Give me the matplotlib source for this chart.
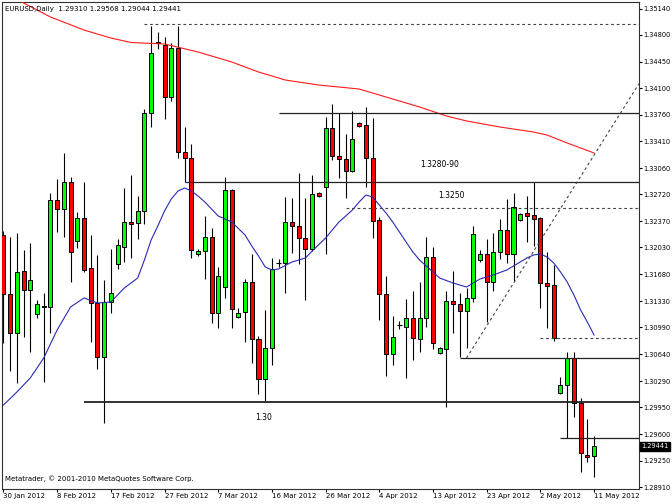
import matplotlib
matplotlib.use("Agg")
import matplotlib.pyplot as plt
import numpy as np

plt.rcParams['font.family'] = ['DejaVu Sans']

# EURUSD daily bars, 30 Jan 2012 .. 11 May 2012 (feed has Sunday bars)
opens = [1.32191, 1.31423, 1.30915, 1.31723, 1.31475, 1.31163, 1.31267, 1.31254, 1.32647, 1.32530,
         1.32881, 1.32113, 1.32413, 1.31762, 1.31306, 1.30603, 1.31319, 1.31814, 1.32035, 1.32361,
         1.32348, 1.32504, 1.33780, 1.34691, 1.34665, 1.33988, 1.34626, 1.33272, 1.33194, 1.31944,
         1.31983, 1.32165, 1.31176, 1.31514, 1.32777, 1.31124, 1.31189, 1.31579, 1.30837, 1.30316,
         1.30720, 1.31827, 1.31827, 1.32361, 1.32309, 1.32152, 1.32009, 1.32738, 1.32816, 1.33584,
         1.33220, 1.33181, 1.33025, 1.33650, 1.33624, 1.33194, 1.32387, 1.31423, 1.30642, 1.31019,
         1.30993, 1.31111, 1.30837, 1.31111, 1.31905, 1.30655, 1.30707, 1.31332, 1.31293, 1.31202,
         1.31371, 1.31866, 1.31944, 1.31579, 1.31970, 1.32256, 1.31944, 1.32387, 1.32478, 1.32452,
         1.32413, 1.31566, 1.31540, 1.30134, 1.30238, 1.30590, 1.30004, 1.29327, 1.29310]
highs = [1.32243, 1.32165, 1.32217, 1.31996, 1.32087, 1.31345, 1.31436, 1.32738, 1.32920, 1.33259,
         1.32946, 1.32491, 1.32881, 1.32191, 1.31931, 1.31605, 1.32009, 1.32139, 1.32803, 1.32972,
         1.32699, 1.33832, 1.34912, 1.34834, 1.34769, 1.34691, 1.34912, 1.33597, 1.33376, 1.32009,
         1.32439, 1.32282, 1.31775, 1.32946, 1.32790, 1.31241, 1.31618, 1.31944, 1.30876, 1.31215,
         1.31892, 1.31879, 1.32686, 1.32673, 1.32999, 1.32673, 1.32972, 1.32751, 1.33728, 1.33897,
         1.33780, 1.33506, 1.33806, 1.33662, 1.33858, 1.33715, 1.32426, 1.31657, 1.31137, 1.31072,
         1.31358, 1.31462, 1.31579, 1.32165, 1.32035, 1.30733, 1.31462, 1.31723, 1.31436, 1.31501,
         1.32309, 1.31996, 1.32139, 1.32217, 1.32400, 1.32660, 1.32738, 1.32478, 1.32699, 1.32881,
         1.32420, 1.31970, 1.31801, 1.30342, 1.30668, 1.30668, 1.30069, 1.29796, 1.29568]
lows = [1.30785, 1.30421, 1.30264, 1.30863, 1.30668, 1.31111, 1.30277, 1.30915, 1.32230, 1.32165,
        1.31579, 1.32022, 1.31710, 1.30798, 1.30447, 1.29744, 1.31176, 1.31749, 1.31840, 1.31892,
        1.32139, 1.32335, 1.33597, 1.34613, 1.33702, 1.33936, 1.33194, 1.32881, 1.31892, 1.31918,
        1.31618, 1.31046, 1.30980, 1.31371, 1.30980, 1.31111, 1.30798, 1.30525, 1.30121, 1.30030,
        1.30499, 1.31775, 1.31436, 1.31957, 1.31814, 1.31345, 1.31983, 1.32686, 1.31944, 1.33168,
        1.32933, 1.32673, 1.33012, 1.33597, 1.32816, 1.32152, 1.31085, 1.30355, 1.30499, 1.30967,
        1.30329, 1.30564, 1.30668, 1.30993, 1.30707, 1.30642, 1.29952, 1.30915, 1.30603, 1.30720,
        1.31319, 1.31840, 1.31059, 1.31462, 1.31879, 1.31827, 1.31592, 1.32374, 1.32100, 1.32048,
        1.31241, 1.30980, 1.30811, 1.30121, 1.29548, 1.29822, 1.29106, 1.29236, 1.29044]
closes = [1.31423, 1.30915, 1.31710, 1.31475, 1.31605, 1.31293, 1.31254, 1.32647, 1.32530, 1.32881,
          1.31970, 1.32413, 1.31736, 1.31306, 1.30603, 1.31319, 1.31436, 1.32061, 1.32361, 1.32335,
          1.32504, 1.33780, 1.34561, 1.34704, 1.33988, 1.34626, 1.33272, 1.33194, 1.31996, 1.31983,
          1.32165, 1.31176, 1.31657, 1.32777, 1.31228, 1.31176, 1.31579, 1.30837, 1.30316, 1.30720,
          1.31749, 1.31827, 1.32361, 1.32309, 1.32152, 1.32009, 1.32725, 1.32699, 1.33584, 1.33220,
          1.33181, 1.33025, 1.33441, 1.33611, 1.33194, 1.32374, 1.31423, 1.30642, 1.30863, 1.31019,
          1.31111, 1.30850, 1.31111, 1.31905, 1.30785, 1.30720, 1.31332, 1.31293, 1.31202, 1.31371,
          1.32204, 1.31944, 1.31579, 1.31970, 1.32256, 1.31944, 1.32556, 1.32465, 1.32439, 1.32400,
          1.31566, 1.31527, 1.30850, 1.30238, 1.30590, 1.30004, 1.29353, 1.29301, 1.29441]

# moving averages (bar index, value)
slow_ma_bars = [0, 3, 7, 12, 16, 19, 24, 29, 34, 38, 42, 47, 53, 57, 62, 66, 69, 74, 79, 81, 84, 88]
slow_ma_vals = [1.35355, 1.35212, 1.35030, 1.34860, 1.34756, 1.34698, 1.34678, 1.34574, 1.34444,
                1.34314, 1.34209, 1.34144, 1.34092, 1.33988, 1.33858, 1.33741, 1.33676, 1.33597,
                1.33532, 1.33493, 1.33389, 1.33259]
fast_ma_bars = [0, 2, 4, 6, 8, 10, 12, 14, 16, 18, 20, 21, 22, 23, 24, 25, 26, 27, 28, 29, 30, 32,
                34, 36, 37, 38, 39, 40, 41, 43, 45, 46, 48, 50, 52, 53, 54, 55, 56, 57, 58, 59, 60,
                61, 62, 63, 65, 67, 69, 70, 71, 73, 75, 77, 78, 79, 80, 81, 82, 83, 84, 85, 86, 87, 88]
fast_ma_vals = [1.29978, 1.30147, 1.30330, 1.30590, 1.30955, 1.31254, 1.31371, 1.31306, 1.31319,
                1.31501, 1.31631, 1.31866, 1.32126, 1.32309, 1.32504, 1.32660, 1.32764, 1.32803,
                1.32764, 1.32699, 1.32621, 1.32439, 1.32361, 1.32191, 1.32048, 1.31918, 1.31775,
                1.31736, 1.31749, 1.31840, 1.31892, 1.31983, 1.32152, 1.32361, 1.32517, 1.32621,
                1.32712, 1.32686, 1.32582, 1.32478, 1.32361, 1.32230, 1.32100, 1.31970, 1.31866,
                1.31788, 1.31631, 1.31566, 1.31514, 1.31566, 1.31618, 1.31671, 1.31736, 1.31840,
                1.31892, 1.31931, 1.31944, 1.31905, 1.31827, 1.31710, 1.31579, 1.31410, 1.31215,
                1.31059, 1.30889]

# drawn levels: price, first bar, style
level_prices = [1.34938, 1.33776, 1.32885, 1.32547, 1.30021, 1.30594, 1.30854, 1.29544]
level_start = [21, 41, 27, 51, 12, 68, 80, 83]
level_dotted = [True, False, False, True, False, False, True, False]

trend_bars = [69, 82]
trend_vals = [1.30590, 1.32397]

price_ticks = [1.35140, 1.34800, 1.34450, 1.34100, 1.33760, 1.33410, 1.33060, 1.32720, 1.32370,
               1.32030, 1.31680, 1.31330, 1.30990, 1.30640, 1.30290, 1.29950, 1.29600, 1.29250,
               1.28910]
date_labels = ["30 Jan 2012", "8 Feb 2012", "17 Feb 2012", "27 Feb 2012", "7 Mar 2012",
               "16 Mar 2012", "26 Mar 2012", "4 Apr 2012", "13 Apr 2012", "23 Apr 2012",
               "2 May 2012", "11 May 2012"]

o = np.array(opens)
h = np.array(highs)
l = np.array(lows)
c = np.array(closes)
idx = np.arange(len(o))
up = c > o
dn = c < o
flat = c == o

fig = plt.figure(figsize=(6.72, 5.04), dpi=100)
ax = fig.add_axes([2/672, 15/504, 637/672, 487/504])
x_right = 94.7
ax.set_xlim(-0.22, x_right)
ax.set_ylim(1.28884, 1.35225)

# candles
ax.vlines(idx, l, h, color='black', lw=0.8, zorder=2)
ax.bar(idx[up], c[up] - o[up], bottom=o[up], width=0.6, color='#00ff00',
       edgecolor='black', lw=0.7, zorder=3)
ax.bar(idx[dn], o[dn] - c[dn], bottom=c[dn], width=0.6, color='#ff0000',
       edgecolor='black', lw=0.7, zorder=3)
ax.hlines(c[flat], idx[flat] - 0.35, idx[flat] + 0.35, color='black', lw=0.8, zorder=3)

# moving averages
ax.plot(slow_ma_bars, slow_ma_vals, color='#ff1a1a', lw=0.8, zorder=4)
ax.plot(fast_ma_bars, fast_ma_vals, color='#2a2ab4', lw=0.8, zorder=4)

# horizontal levels
for p, s, dotted in zip(level_prices, level_start, level_dotted):
    if dotted:
        ax.hlines(p, s, x_right, colors='#444444', lw=0.8, linestyles=(0, (2.5, 2.5)), zorder=5)
    else:
        lw = 1.3 if p == level_prices[4] else 0.9
        ax.hlines(p, s, x_right, colors='#222222', lw=lw, zorder=5)

# trend line, extended to the right edge
slope = (trend_vals[1] - trend_vals[0]) / (trend_bars[1] - trend_bars[0])
ax.plot([trend_bars[0], x_right], [trend_vals[0], trend_vals[0] + slope * (x_right - trend_bars[0])],
        color='#444444', lw=0.8, ls=(0, (2.5, 2.5)), zorder=5)

ax.text(62.1, 1.33103, "1.3280-90", fontsize=5.5, va='center', ha='left', zorder=6)
ax.text(64.8, 1.32712, "1.3250", fontsize=5.5, va='center', ha='left', zorder=6)
ax.text(37.5, 1.29809, "1.30", fontsize=5.5, va='center', ha='left', zorder=6)

# axes like the terminal: prices on the right, dates below
ax.yaxis.tick_right()
ax.set_yticks(price_ticks)
ax.set_yticklabels([f"{v:.5f}" for v in price_ticks])
ax.tick_params(axis='y', direction='out', length=2, width=0.8, pad=1, labelsize=4.8)
ax.set_xticks(np.arange(0, len(o), 8))
ax.set_xticklabels(date_labels, ha='left')
ax.tick_params(axis='x', direction='out', length=2, width=0.8, pad=1, labelsize=5)
for sp in ax.spines.values():
    sp.set_color('#303030')
    sp.set_linewidth(0.8)

ax.annotate(f"{closes[-1]:.5f}", xy=(1, closes[-1]), xycoords=('axes fraction', 'data'),
            xytext=(1.8, 0), textcoords='offset points', va='center', ha='left',
            fontsize=4.8, color='white',
            bbox=dict(boxstyle='square,pad=0.2', fc='black', ec='black'))

fig.text(5/672, 1 - 8.5/504,
         f"EURUSD,Daily  {opens[-1]:.5f} {highs[-1]:.5f} {lows[-1]:.5f} {closes[-1]:.5f}",
         fontsize=5, va='center', ha='left')
fig.text(5/672, 1 - 479/504, "Metatrader, \u00a9 2001-2010 MetaQuotes Software Corp.",
         fontsize=5, va='center', ha='left')

fig.savefig('out.png', dpi=100)
